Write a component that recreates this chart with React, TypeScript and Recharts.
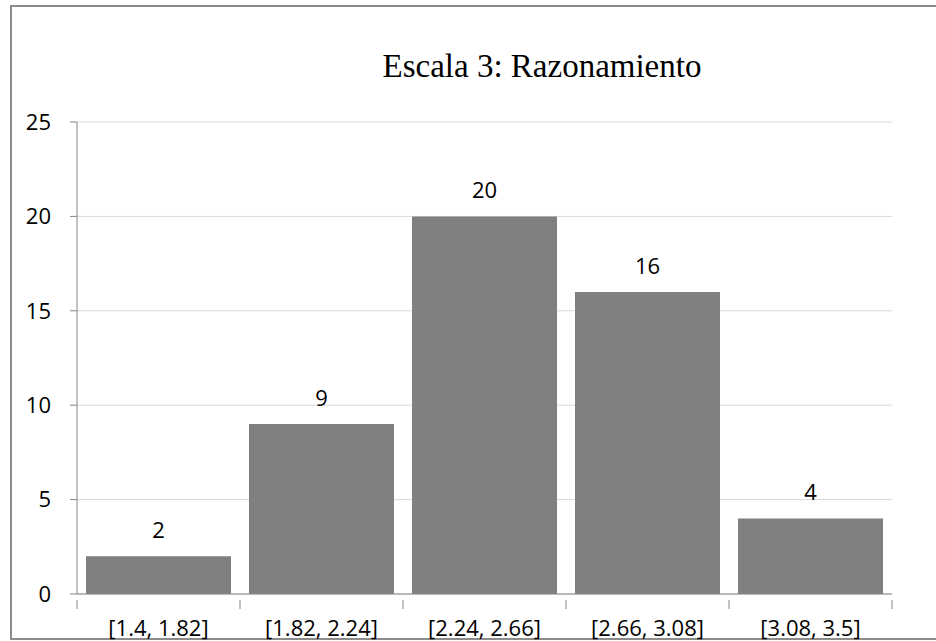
import { BarChart, Bar, XAxis, YAxis, CartesianGrid, LabelList } from 'recharts';

const categories = ['[1.4, 1.82]', '[1.82, 2.24]', '[2.24, 2.66]', '[2.66, 3.08]', '[3.08, 3.5]'];
const counts = [2, 9, 20, 16, 4];
const yTicks = [0, 5, 10, 15, 20, 25];

const data = categories.map((rango, i) => ({ rango, frecuencia: counts[i] }));

const W = 936;
const H = 641;
const MARGIN = { top: 122, right: 44, bottom: 0, left: 0 };
const Y_AXIS_W = 77;
const X_AXIS_H = 47;
const BAND = (W - MARGIN.left - MARGIN.right - Y_AXIS_W) / categories.length;
const X_TICK_GAP = 20;

const AXIS = '#868686';
const LABEL_FONT = '"Open Sans", "Liberation Sans", sans-serif';

// category tick: label at the centre, tick marks at the band boundaries (Excel style)
function CategoryTick(props: any) {
  const { x, y, payload, index } = props;
  const left = x - BAND / 2;
  const right = x + BAND / 2;
  const y0 = y - X_TICK_GAP;
  return (
    <g>
      <line x1={left} x2={left} y1={y0} y2={y0 + 9} stroke={AXIS} />
      {index === categories.length - 1 && (
        <line x1={right} x2={right} y1={y0} y2={y0 + 9} stroke={AXIS} />
      )}
      <text
        x={x}
        y={y}
        dy="0.71em"
        textAnchor="middle"
        fill="#000"
        fontSize={22}
        fontFamily={LABEL_FONT}
      >
        {payload.value}
      </text>
    </g>
  );
}

export default function App() {
  return (
    <div style={{ position: 'absolute', left: 0, top: 0, width: W, height: H, background: '#fff', overflow: 'hidden' }}>
      <div
        style={{
          position: 'absolute',
          left: 10,
          top: 5,
          width: 940,
          height: 635,
          boxSizing: 'border-box',
          border: '2px solid #8c8c8c',
        }}
      />
      <div
        style={{
          position: 'absolute',
          left: 342,
          top: 50,
          width: 400,
          textAlign: 'center',
          fontFamily: '"Liberation Serif", "Times New Roman", serif',
          fontSize: 33,
          lineHeight: '33px',
          color: '#000',
        }}
      >
        Escala 3: Razonamiento
      </div>
      <div style={{ position: 'absolute', left: 0, top: 0 }}>
        <BarChart width={W} height={H} data={data} margin={MARGIN} barCategoryGap={9}>
          <CartesianGrid vertical={false} stroke="#d9d9d9" />
          <XAxis
            dataKey="rango"
            height={X_AXIS_H}
            stroke={AXIS}
            tickLine={false}
            tick={<CategoryTick />}
            tickMargin={X_TICK_GAP}
            interval={0}
          />
          <YAxis
            width={Y_AXIS_W}
            domain={[0, 25]}
            ticks={yTicks}
            stroke={AXIS}
            tickSize={7}
            tickMargin={19}
            tick={{ fill: '#000', fontSize: 22, fontFamily: LABEL_FONT }}
          />
          <Bar dataKey="frecuencia" fill="#808080" isAnimationActive={false}>
            <LabelList
              dataKey="frecuencia"
              position="top"
              offset={18}
              fill="#000"
              fontSize={22}
              fontFamily={LABEL_FONT}
            />
          </Bar>
        </BarChart>
      </div>
    </div>
  );
}
